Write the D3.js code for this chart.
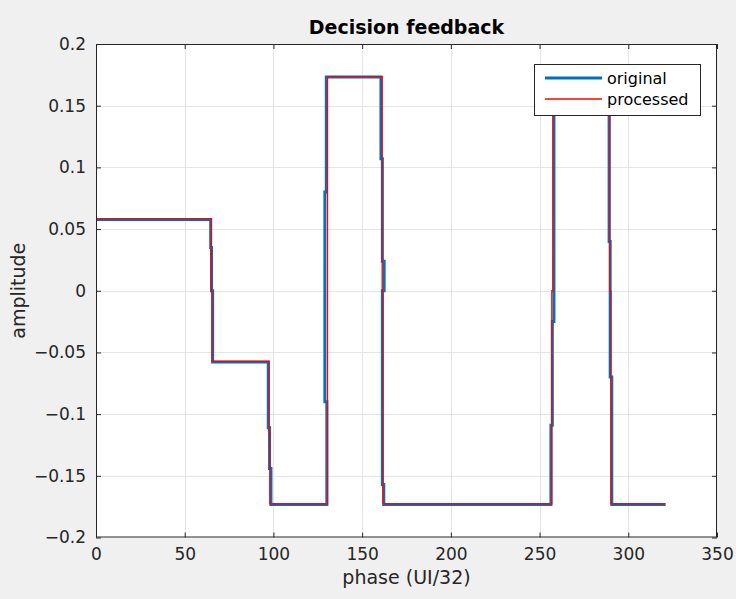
<!DOCTYPE html>
<html>
<head>
<meta charset="utf-8">
<script src="https://cdn.jsdelivr.net/npm/d3@7/dist/d3.min.js"></script>
<style>
  html, body { margin: 0; padding: 0; background: #f0f0f0; }
  svg { display: block; font-family: "DejaVu Sans", sans-serif; }
</style>
</head>
<body>
<svg id="chart" width="736" height="599"></svg>
<script>
// Step waveform vertices: phase (UI/32) and amplitude
const originalPhase = [0,
  64.65, 64.65, 65.1, 65.1, 65.75, 65.75,
  97.1, 97.1, 97.8, 97.8, 98.6, 98.6,
  130.1, 130.1, 129.0, 129.0, 129.8, 129.8,
  160.6, 160.6, 161.4, 161.4, 162.4, 162.4, 161.4, 161.4, 162.2, 162.2,
  256.4, 256.4, 257.2, 257.2, 258.1, 258.1,
  289.2, 289.2, 289.8, 289.8, 290.7, 290.7,
  321];
const originalValue = [0.0577,
  0.0577, 0.035, 0.035, 0.0, 0.0, -0.0577,
  -0.0577, -0.111, -0.111, -0.144, -0.144, -0.1732,
  -0.1732, -0.09, -0.09, 0.08, 0.08, 0.1732,
  0.1732, 0.107, 0.107, 0.024, 0.024, 0.0, 0.0, -0.157, -0.157, -0.1732,
  -0.1732, -0.109, -0.109, -0.025, -0.025, 0.1732,
  0.1732, 0.040, 0.040, -0.070, -0.070, -0.1732,
  -0.1732];

const processedPhase = [0, 65.0, 65.0, 65.4, 65.4, 97.6, 97.6, 98.0, 98.0,
  130.5, 130.5, 161.3, 161.3, 161.7, 161.7,
  256.9, 256.9, 257.5, 257.5, 289.6, 289.6, 290.2, 290.2, 321];
const processedValue = [0.0581, 0.0581, 0.0, 0.0, -0.0573, -0.0573, -0.115, -0.115, -0.1728,
  -0.1728, 0.1736, 0.1736, 0.0, 0.0, -0.1728,
  -0.1728, 0.0, 0.0, 0.1736, 0.1736, 0.0, 0.0, -0.1728, -0.1728];

const xTicks = [0, 50, 100, 150, 200, 250, 300, 350];
const xTickLabels = ["0", "50", "100", "150", "200", "250", "300", "350"];
const yTicks = [-0.2, -0.15, -0.1, -0.05, 0, 0.05, 0.1, 0.15, 0.2];
const yTickLabels = ["\u22120.2", "\u22120.15", "\u22120.1", "\u22120.05", "0", "0.05", "0.1", "0.15", "0.2"];

const seriesNames = ["original", "processed"];
const seriesColors = ["#0072bd", "#ff0000"];

const svg = d3.select("#chart");
const plotLeft = 96, plotRight = 717, plotTop = 44, plotBottom = 537.5;

const x = d3.scaleLinear().domain([0, 350]).range([plotLeft, plotRight]);
const y = d3.scaleLinear().domain([-0.2, 0.2]).range([plotBottom, plotTop]);

// axes background
svg.append("rect").attr("x", plotLeft).attr("y", plotTop)
  .attr("width", plotRight - plotLeft).attr("height", plotBottom - plotTop).attr("fill", "#ffffff");

// grid
const grid = svg.append("g").attr("stroke", "#e5e5e5").attr("stroke-width", 1);
grid.selectAll("line.gx").data(xTicks.slice(1, -1)).join("line")
  .attr("x1", d => Math.round(x(d)) + 0.5).attr("x2", d => Math.round(x(d)) + 0.5)
  .attr("y1", plotTop).attr("y2", plotBottom);
grid.selectAll("line.gy").data(yTicks.slice(1, -1)).join("line")
  .attr("y1", d => Math.round(y(d)) + 0.5).attr("y2", d => Math.round(y(d)) + 0.5)
  .attr("x1", plotLeft).attr("x2", plotRight);

// data lines
svg.append("clipPath").attr("id", "plotclip").append("rect")
  .attr("x", plotLeft).attr("y", plotTop).attr("width", plotRight - plotLeft).attr("height", plotBottom - plotTop);

const line = d3.line().x(d => x(d[0])).y(d => y(d[1]));
const plot = svg.append("g").attr("clip-path", "url(#plotclip)");
plot.append("path")
  .datum(originalPhase.map((p, i) => [p, originalValue[i]]))
  .attr("d", line).attr("fill", "none").attr("stroke", seriesColors[0])
  .attr("stroke-width", 3).attr("stroke-linejoin", "miter");
plot.append("path")
  .datum(processedPhase.map((p, i) => [p, processedValue[i]]))
  .attr("d", line).attr("fill", "none").attr("stroke", seriesColors[1])
  .attr("stroke-width", 1.3);

// axes with inward ticks on all four sides
const axisColor = "#262626";
function styleAxis(g) {
  g.select(".domain").remove();
  g.selectAll(".tick line").attr("stroke", axisColor);
  g.selectAll("text").attr("fill", "#262626").attr("font-size", 17)
    .attr("font-family", "DejaVu Sans, sans-serif");
}
svg.append("g").attr("transform", `translate(0,${plotBottom})`)
  .call(d3.axisBottom(x).tickValues(xTicks).tickFormat((d, i) => xTickLabels[i])
    .tickSizeInner(-5).tickPadding(10))
  .call(styleAxis);
svg.append("g").attr("transform", `translate(0,${plotTop})`)
  .call(d3.axisTop(x).tickValues(xTicks).tickFormat("").tickSizeInner(-5))
  .call(styleAxis);
svg.append("g").attr("transform", `translate(${plotLeft},0)`)
  .call(d3.axisLeft(y).tickValues(yTicks).tickFormat((d, i) => yTickLabels[i])
    .tickSizeInner(-5).tickPadding(10))
  .call(styleAxis);
svg.append("g").attr("transform", `translate(${plotRight},0)`)
  .call(d3.axisRight(y).tickValues(yTicks).tickFormat("").tickSizeInner(-5))
  .call(styleAxis);

// axes box
svg.append("rect").attr("x", plotLeft + 0.5).attr("y", plotTop + 0.5)
  .attr("width", plotRight - plotLeft - 1).attr("height", plotBottom - plotTop - 1)
  .attr("fill", "none").attr("stroke", axisColor).attr("stroke-width", 1);

// title and axis labels
svg.append("text").attr("x", (plotLeft + plotRight) / 2).attr("y", 34)
  .attr("text-anchor", "middle").attr("font-size", 19).attr("font-weight", "bold")
  .attr("fill", "#000").text("Decision feedback");
svg.append("text").attr("x", (plotLeft + plotRight) / 2).attr("y", 584)
  .attr("text-anchor", "middle").attr("font-size", 19).attr("fill", "#262626")
  .text("phase (UI/32)");
svg.append("text").attr("transform", `translate(25,${(plotTop + plotBottom) / 2}) rotate(-90)`)
  .attr("text-anchor", "middle").attr("font-size", 19).attr("fill", "#262626")
  .text("amplitude");

// legend
const legend = svg.append("g");
legend.append("rect").attr("x", 534.5).attr("y", 64.5).attr("width", 166).attr("height", 51)
  .attr("fill", "#ffffff").attr("stroke", axisColor).attr("stroke-width", 1);
const legendWidths = [3, 1.3];
seriesNames.forEach((name, i) => {
  const ly = 78 + i * 21;
  legend.append("line").attr("x1", 545).attr("x2", 602).attr("y1", ly).attr("y2", ly)
    .attr("stroke", seriesColors[i]).attr("stroke-width", legendWidths[i]);
  legend.append("text").attr("x", 607).attr("y", ly + 5.5).attr("font-size", 16)
    .attr("fill", "#000").text(name);
});
</script>
</body>
</html>
